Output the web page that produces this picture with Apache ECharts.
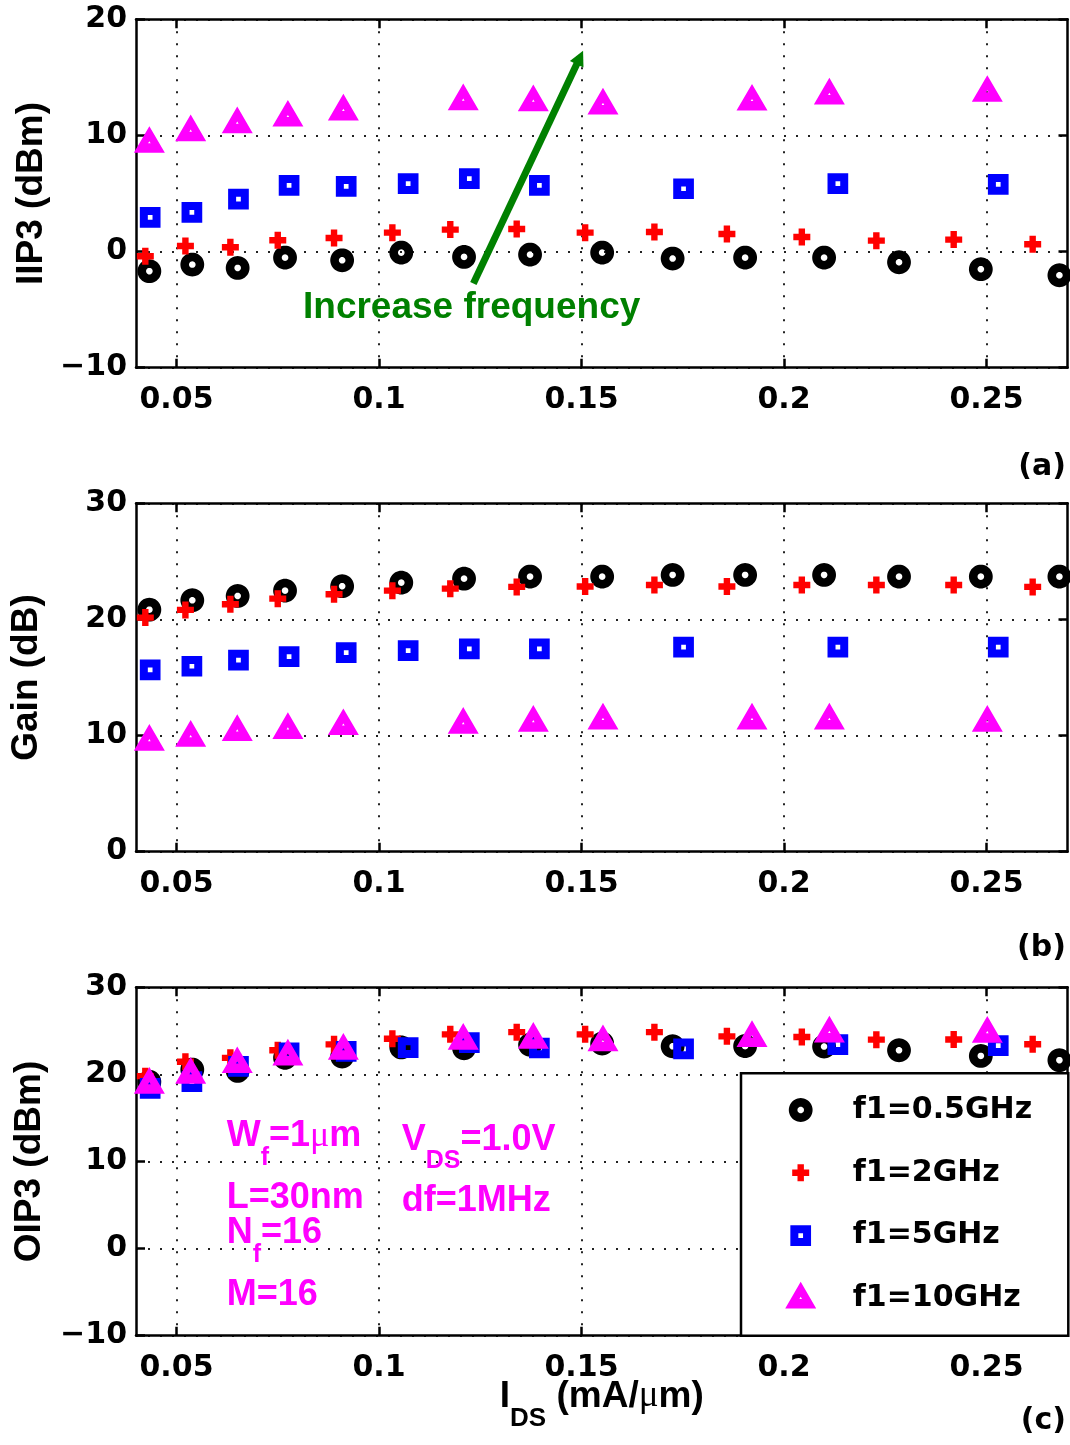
<!DOCTYPE html>
<html>
<head>
<meta charset="utf-8">
<script src="https://cdn.jsdelivr.net/npm/echarts@6/dist/echarts.min.js"></script>
<style>
html,body{margin:0;padding:0;background:#fff;}
#chart{width:1070px;height:1445px;}
</style>
</head>
<body>
<div id="chart"></div>
<script>
// ---------------- data ----------------
const xTickValues = [0.05, 0.1, 0.15, 0.2, 0.25];
const seriesNames = ['f1=0.5GHz', 'f1=2GHz', 'f1=5GHz', 'f1=10GHz'];

const ids_f05 = [0.0433, 0.0539, 0.0651, 0.0768, 0.0909, 0.1055, 0.1210, 0.1373, 0.1551, 0.1725, 0.1904, 0.2099, 0.2284, 0.2486, 0.2680];
const ids_f2  = [0.0423, 0.0522, 0.0633, 0.0750, 0.0889, 0.1033, 0.1176, 0.1340, 0.1509, 0.1680, 0.1859, 0.2044, 0.2228, 0.2419, 0.2614];
const ids_f5  = [0.0435, 0.0538, 0.0653, 0.0778, 0.0919, 0.1072, 0.1223, 0.1396, 0.1752, 0.2133, 0.2529];
const ids_f10 = [0.0433, 0.0535, 0.0650, 0.0775, 0.0912, 0.1208, 0.1381, 0.1553, 0.1921, 0.2112, 0.2502];

const iip3_f05 = [-1.69, -1.12, -1.41, -0.52, -0.75, -0.09, -0.46, -0.26, -0.09, -0.60, -0.52, -0.52, -0.92, -1.52, -2.04];
const iip3_f2  = [-0.40, 0.48, 0.37, 0.97, 1.17, 1.63, 1.89, 1.94, 1.63, 1.69, 1.51, 1.26, 0.94, 1.03, 0.63];
const iip3_f5  = [2.95, 3.38, 4.52, 5.70, 5.61, 5.85, 6.28, 5.70, 5.41, 5.85, 5.79];
const iip3_f10 = [9.37, 10.37, 11.06, 11.63, 12.15, 13.04, 12.95, 12.67, 13.01, 13.53, 13.76];

const gain_f05 = [20.84, 21.65, 22.02, 22.48, 22.86, 23.17, 23.51, 23.69, 23.69, 23.83, 23.83, 23.83, 23.69, 23.69, 23.69];
const gain_f2  = [20.16, 20.82, 21.31, 21.79, 22.17, 22.48, 22.65, 22.80, 22.83, 22.97, 22.83, 22.97, 22.97, 22.97, 22.80];
const gain_f5  = [15.65, 15.97, 16.49, 16.80, 17.14, 17.31, 17.46, 17.46, 17.61, 17.61, 17.61];
const gain_f10 = [9.56, 9.91, 10.40, 10.57, 10.91, 11.02, 11.20, 11.40, 11.40, 11.40, 11.20];

const oip3_f05 = [19.15, 20.55, 20.40, 21.90, 22.05, 23.10, 23.00, 23.40, 23.55, 23.23, 23.25, 23.20, 22.77, 22.12, 21.63];
const oip3_f2  = [19.80, 21.45, 21.90, 22.77, 23.45, 24.10, 24.60, 24.85, 24.60, 24.85, 24.37, 24.30, 23.99, 24.00, 23.46];
const oip3_f5  = [18.40, 19.17, 20.93, 22.46, 22.65, 23.07, 23.65, 23.03, 22.92, 23.42, 23.30];
const oip3_f10 = [18.94, 20.09, 21.31, 22.19, 22.85, 24.00, 24.11, 23.83, 24.30, 24.83, 24.80];

const yTitles = ['IIP3 (dBm)', 'Gain (dB)', 'OIP3 (dBm)'];
const panelLabels = ['(a)', '(b)', '(c)'];

// annotation arrow (data units of panel a)
const arrowFrom = [0.1233, -2.75];
const arrowTo = [0.1496, 16.71];

// ---------------- layout / style ----------------
const yMin = [-10, 0, -10];
const yMax = [20, 30, 30];
const gridTops = [19.3, 503.3, 987.3];
const GRID_LEFT = 136, GRID_W = 931.5, GRID_H = 348.4;
const nameGaps = [84.6, 89, 86];
const panelLabelY = [467, 948, 1421];

const colors = ['#000000', '#ff0000', '#0000ff', '#ff00ff'];
const shapeKeys = ['ring', 'plus', 'square', 'tri'];

// marker shapes defined in a 34x34 box centred at (17,17)
function circlePts(cx, cy, r, n, rev) {
  const pts = [];
  for (let i = 0; i < n; i++) {
    let t = 2 * Math.PI * i / n;
    if (rev) t = -t;
    pts.push([cx + r * Math.cos(t), cy + r * Math.sin(t)]);
  }
  return pts;
}
function poly(pts, dx) {
  return 'M' + pts.map(p => (p[0] + dx).toFixed(2) + ' ' + p[1].toFixed(2)).join(' L') + ' Z ';
}
const shapes = {
  ring: dx => poly(circlePts(17, 17, 11.9, 48, false), dx) + poly(circlePts(17, 17, 3.3, 24, true), dx),
  plus: dx => poly([[13.8,8.5],[20.2,8.5],[20.2,13.8],[25.5,13.8],[25.5,20.2],[20.2,20.2],[20.2,25.5],[13.8,25.5],[13.8,20.2],[8.5,20.2],[8.5,13.8],[13.8,13.8]], dx),
  square: dx => poly([[6.65,6.65],[27.35,6.65],[27.35,27.35],[6.65,27.35]], dx) +
                poly([[14.65,14.65],[14.65,19.35],[19.35,19.35],[19.35,14.65]], dx),
  tri: dx => poly([[17,0.4],[32.5,27.1],[1.5,27.1]], dx) +
             poly([[17,15.4],[15.7,17.6],[18.3,17.6]], dx)
};
function symbolPath(key, boxW) {
  const dx = (boxW - 34) / 2;
  return 'path://M0 0 L0.01 0 L0 0.01 Z M' + boxW + ' 34 L' + (boxW - 0.01) + ' 34 L' + boxW + ' 33.99 Z ' + shapes[key](dx);
}

const TICK_FONT = {fontFamily: 'DejaVu Sans', fontWeight: 'bold', fontSize: 30, color: '#000'};
const frameLine = {color: '#000', width: 2.5};
const gridDots = {color: '#222', width: 2, type: [2, 10]};

function fmtY(v) { return v < 0 ? '\u2212' + Math.abs(v) : String(v); }
function fmtX(v) {
  const k = v * 20;
  if (Math.abs(k - Math.round(k)) > 1e-6) return '';
  return String(+v.toFixed(2));
}

const grid = [], xAxis = [], yAxis = [], series = [];
const idsList = [ids_f05, ids_f2, ids_f5, ids_f10];
const metrics = [
  [iip3_f05, iip3_f2, iip3_f5, iip3_f10],
  [gain_f05, gain_f2, gain_f5, gain_f10],
  [oip3_f05, oip3_f2, oip3_f5, oip3_f10]
];

for (let i = 0; i < 3; i++) {
  grid.push({left: GRID_LEFT, top: gridTops[i], width: GRID_W, height: GRID_H, containLabel: false, outerBoundsMode: 'none'});
  const xb = {
    type: 'value', gridIndex: i, position: 'bottom', min: 0.04, max: 0.27,
    axisLine: {show: true, onZero: false, lineStyle: frameLine},
    axisTick: {show: true, inside: true, length: 9, customValues: xTickValues, lineStyle: frameLine},
    axisLabel: Object.assign({show: true, margin: 18, customValues: xTickValues, formatter: fmtX}, TICK_FONT),
    splitLine: {show: true, lineStyle: gridDots}
  };
  if (i === 2) {
    xb.name = '{m|I}{s|DS}{m| (mA/}{u|\u03bc}{m|m)}';
    xb.nameLocation = 'middle';
    xb.nameGap = 41;
    xb.nameMoveOverlap = false;
    xb.nameTextStyle = {rich: {
      m: {fontFamily: 'Liberation Sans', fontWeight: 'bold', fontSize: 37, color: '#000', lineHeight: 40},
      s: {fontFamily: 'Liberation Sans', fontWeight: 'bold', fontSize: 26, color: '#000', lineHeight: 26, padding: [45, 0, 0, 0]},
      u: {fontFamily: 'Liberation Serif', fontWeight: 'normal', fontSize: 37, color: '#000', lineHeight: 40}
    }};
  }
  xAxis.push(xb);
  xAxis.push({
    type: 'value', gridIndex: i, position: 'top', min: 0.04, max: 0.27,
    axisLine: {show: true, onZero: false, lineStyle: frameLine},
    axisTick: {show: true, inside: true, length: 9, customValues: xTickValues, lineStyle: frameLine},
    axisLabel: {show: false}, splitLine: {show: false}
  });
  yAxis.push({
    type: 'value', gridIndex: i, position: 'left', min: yMin[i], max: yMax[i], interval: 10,
    axisLine: {show: true, onZero: false, lineStyle: frameLine},
    axisTick: {show: true, inside: true, length: 9, lineStyle: frameLine},
    axisLabel: Object.assign({show: true, margin: 9, formatter: fmtY}, TICK_FONT),
    splitLine: {show: true, lineStyle: gridDots},
    name: yTitles[i], nameLocation: 'middle', nameGap: nameGaps[i], nameMoveOverlap: false,
    nameTextStyle: {fontFamily: 'Liberation Sans', fontWeight: 'bold', fontSize: 37, color: '#000', lineHeight: 40}
  });
  yAxis.push({
    type: 'value', gridIndex: i, position: 'right', min: yMin[i], max: yMax[i], interval: 10,
    axisLine: {show: true, onZero: false, lineStyle: frameLine},
    axisTick: {show: true, inside: true, length: 9, lineStyle: frameLine},
    axisLabel: {show: false}, splitLine: {show: false}
  });
  for (let k = 0; k < 4; k++) {
    const s = {
      type: 'scatter', name: seriesNames[k],
      xAxisIndex: 2 * i, yAxisIndex: 2 * i,
      data: idsList[k].map((x, j) => [x, metrics[i][k][j]]),
      symbol: symbolPath(shapeKeys[k], 34), symbolSize: 34,
      itemStyle: {color: colors[k], opacity: 1},
      emphasis: {disabled: true}, silent: true, clip: false
    };
    if (i === 0 && k === 3) {
      s.markLine = {
        silent: true, animation: false,
        symbol: ['none', 'triangle'], symbolSize: 15,
        lineStyle: {color: '#008000', width: 7, type: 'solid', opacity: 1},
        label: {show: false}, emphasis: {disabled: true},
        data: [[{coord: arrowFrom}, {coord: arrowTo}]]
      };
    }
    series.push(s);
  }
}

const annMain = {fontFamily: 'Liberation Sans', fontWeight: 'bold', fontSize: 36, fill: '#ff00ff', color: '#ff00ff', lineHeight: 40};
const annRich = {
  m: annMain,
  s: {fontFamily: 'Liberation Sans', fontWeight: 'bold', fontSize: 25, fill: '#ff00ff', color: '#ff00ff', lineHeight: 25, padding: [43, 0, 0, 0]},
  u: {fontFamily: 'Liberation Serif', fontWeight: 'normal', fontSize: 36, fill: '#ff00ff', color: '#ff00ff', lineHeight: 40}
};
function annText(txt, x, y) {
  return {type: 'text', x: x, y: y, z: 100, silent: true,
    style: {text: txt, rich: annRich, align: 'left', verticalAlign: 'middle', textAlign: 'left', textVerticalAlign: 'middle',
            font: 'bold 36px "Liberation Sans"', fill: '#ff00ff'}};
}
const graphics = [
  annText('{m|W}{s|f}{m|=1}{u|\u03bc}{m|m}', 226.7, 1136.2),
  annText('{m|L=30nm}', 226.7, 1197.9),
  annText('{m|N}{s|f}{m|=16}', 226.7, 1233.4),
  annText('{m|M=16}', 226.7, 1294.6),
  annText('{m|V}{s|DS}{m|=1.0V}', 401.7, 1139.6),
  annText('{m|df=1MHz}', 401.7, 1201.2),
  {type: 'text', x: 303, y: 307.5, z: 100, silent: true,
   style: {text: 'Increase frequency', align: 'left', verticalAlign: 'middle', textAlign: 'left', textVerticalAlign: 'middle',
           font: 'bold 37px "Liberation Sans"', fill: '#008000'}}
];
for (let i = 0; i < 3; i++) {
  graphics.push({type: 'text', x: 1066, y: panelLabelY[i], z: 100, silent: true,
    style: {text: panelLabels[i], align: 'right', verticalAlign: 'middle', textAlign: 'right', textVerticalAlign: 'middle',
            font: 'bold 30px "DejaVu Sans"', fill: '#000'}});
}

const legendData = seriesNames.map((n, k) => ({name: n, icon: symbolPath(shapeKeys[k], 94)}));

const option = {
  animation: false,
  backgroundColor: '#ffffff',
  grid: grid, xAxis: xAxis, yAxis: yAxis, series: series,
  legend: {
    data: legendData, orient: 'vertical', left: 741, top: 1073.3,
    itemWidth: 94, itemHeight: 34, itemGap: 28.8,
    padding: [19.7, 36.2, 20.4, 12.7],
    backgroundColor: '#ffffff', borderColor: '#000', borderWidth: 2.5, borderRadius: 0,
    textStyle: {fontFamily: 'DejaVu Sans', fontWeight: 'bold', fontSize: 30, color: '#000'},
    selectedMode: false, z: 10
  },
  graphic: {elements: graphics}
};

const chart = echarts.init(document.getElementById('chart'), null, {renderer: 'canvas'});
chart.setOption(option);
</script>
</body>
</html>
